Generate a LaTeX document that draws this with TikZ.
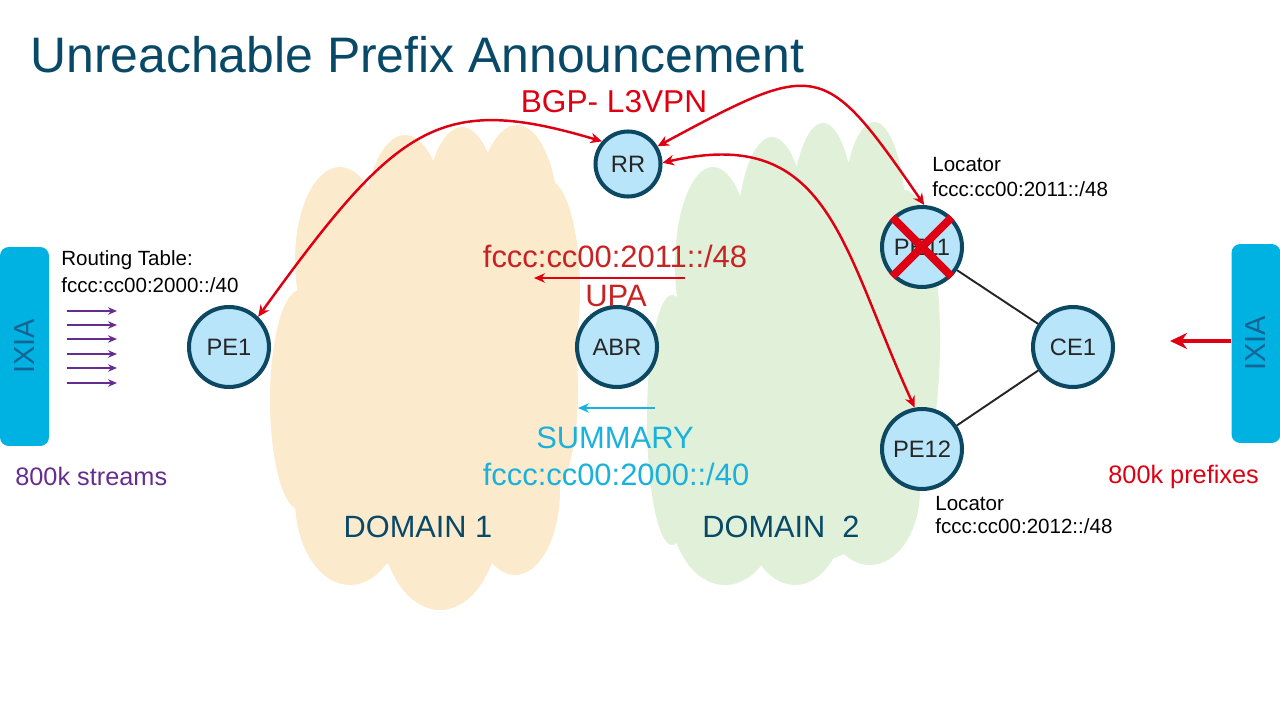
\documentclass[tikz,border=0pt]{standalone}
\usepackage{fontspec}
\setmainfont{Liberation Sans}
\usetikzlibrary{arrows.meta, positioning}
\definecolor{titleteal}{RGB}{8, 73, 104}
\definecolor{nodefill}{RGB}{185, 229, 250}
\definecolor{nodeborder}{RGB}{13, 72, 98}
\definecolor{ixiacyan}{RGB}{0, 178, 226}
\definecolor{ixiatext}{RGB}{22, 100, 150}
\definecolor{bgpred}{RGB}{222, 0, 18}
\definecolor{upared}{RGB}{200, 35, 35}
\definecolor{streampurple}{RGB}{102, 45, 145}
\definecolor{sumcyan}{RGB}{27, 177, 221}
\definecolor{cloudorange}{RGB}{252, 234, 205}
\definecolor{cloudgreen}{RGB}{225, 240, 217}
\tikzset{
    router/.style={
        circle, draw=nodeborder, fill=nodefill, line width=2.3pt,
        minimum size=1.6cm, inner sep=0pt, text=black!85,
        font=\fontsize{13.5}{16}\selectfont
    },
    ixiabox/.style={
        rectangle, rounded corners=5pt, fill=ixiacyan, minimum width=3.98cm,
        minimum height=0.98cm, text=ixiatext, font=\fontsize{16.5}{19}\selectfont
    },
    txt/.style={inner sep=0pt},
    titletext/.style={txt, text=titleteal, font=\fontsize{28.4}{32}\selectfont},
    bgptext/.style={txt, text=bgpred, font=\fontsize{18}{21}\selectfont},
    upatext/.style={txt, text=upared, font=\fontsize{17.6}{20}\selectfont},
    sumtext/.style={txt, text=sumcyan, font=\fontsize{17.6}{20}\selectfont},
    domaintext/.style={txt, text=titleteal, font=\fontsize{17.5}{20}\selectfont},
    smalltext/.style={txt, text=black, font=\fontsize{11.7}{14}\selectfont},
    counttext/.style={txt, font=\fontsize{14.4}{17}\selectfont},
    bgp/.style={<->, >={Stealth[length=2.3mm, width=2.1mm]}, draw=bgpred, line width=1.4pt},
    upaarrow/.style={-{Stealth[length=2.2mm, width=1.9mm]}, draw=bgpred, line width=0.8pt},
    sumarrow/.style={-{Stealth[length=2.2mm, width=1.9mm]}, draw=sumcyan, line width=0.8pt},
    stream/.style={-{Stealth[length=1.8mm, width=1.5mm]}, draw=streampurple, line width=0.8pt},
    inarrow/.style={-{Stealth[length=3.4mm, width=3.2mm]}, draw=bgpred, line width=2.2pt},
    link/.style={draw=black!85, line width=1.1pt},
    cross/.style={draw=bgpred, line width=4.5pt},
}
\begin{document}
\begin{tikzpicture}[x=0.02cm, y=0.02cm]
    \useasboundingbox (0,0) rectangle (1280,-720);

    % domain clouds
    \fill[cloudorange]
        (340,-260) ellipse [x radius=45, y radius=93]
        (405,-235) ellipse [x radius=42, y radius=100]
        (462,-225) ellipse [x radius=38, y radius=98]
        (517,-225) ellipse [x radius=42, y radius=100]
        (548,-290) ellipse [x radius=32, y radius=110]
        (425,-390) ellipse [x radius=145, y radius=180]
        (300,-400) ellipse [x radius=30, y radius=110]
        (350,-500) ellipse [x radius=55, y radius=85]
        (440,-515) ellipse [x radius=60, y radius=95]
        (515,-490) ellipse [x radius=45, y radius=85]
        (555,-390) ellipse [x radius=23, y radius=95];
    \fill[cloudgreen]
        (713,-265) ellipse [x radius=38, y radius=98]
        (772,-240) ellipse [x radius=35, y radius=103]
        (823,-225) ellipse [x radius=32, y radius=102]
        (874,-225) ellipse [x radius=32, y radius=103]
        (905,-340) ellipse [x radius=35, y radius=150]
        (795,-390) ellipse [x radius=140, y radius=175]
        (672,-420) ellipse [x radius=25, y radius=125]
        (725,-505) ellipse [x radius=55, y radius=80]
        (795,-510) ellipse [x radius=50, y radius=75]
        (870,-490) ellipse [x radius=50, y radius=75];

    \node[titletext, anchor=base west] (title) at (30,-72) {Unreachable Prefix Announcement};

    % routers
    \node[router, minimum size=1.3cm] (rr) at (628,-164) {RR};
    \node[router] (pe1) at (229,-347) {PE1};
    \node[router] (abr) at (617,-347) {ABR};
    \node[router] (pe11) at (922,-247) {PE11};
    \node[router] (pe12) at (922,-449) {PE12};
    \node[router] (ce1) at (1073,-347) {CE1};

    \draw[link] (pe11) -- (ce1);
    \draw[link] (pe12) -- (ce1);
    \draw[cross] (pe11.135) -- (pe11.-45) (pe11.45) -- (pe11.-135);

    % traffic generators
    \node[ixiabox, rotate=90] (ixiaL) at (24.5,-346.5) {IXIA};
    \node[ixiabox, rotate=90] (ixiaR) at (1256,-343.5) {IXIA};

    \foreach \y [count=\i] in {311,325,339,354,368,383} {
        \coordinate (s\i) at (67,-\y);
        \coordinate (t\i) at (117,-\y);
        \draw[stream] (s\i) -- (t\i);
    }
    \coordinate (inR) at (1170,-341);
    \draw[inarrow] (ixiaR.north |- inR) -- (inR);

    % BGP sessions
    \node[bgptext, anchor=base] (bgp) at (614,-112) {BGP- L3VPN};
    \draw[bgp] (pe1.46) .. controls (398,-123) and (440,-93) .. (rr.139);
    \draw[bgp] (rr.31) .. controls (818,-60) and (823,-58) .. (pe11.87);
    \draw[bgp] (rr.2) .. controls (830,-124) and (841,-247) .. (pe12.100);

    % UPA and summary
    \node[upatext, anchor=base] (upapfx) at (615,-267) {fccc:cc00:2011::/48};
    \coordinate (upaS) at (685,-278);
    \coordinate (upaE) at (534,-278);
    \draw[upaarrow] (upaS) -- (upaE);
    \node[upatext, anchor=base] (upa) at (616,-306) {UPA};

    \coordinate (sumS) at (655,-408);
    \coordinate (sumE) at (578,-408);
    \draw[sumarrow] (sumS) -- (sumE);
    \node[sumtext, anchor=base] (sum) at (615,-448) {SUMMARY};
    \node[sumtext, anchor=base] (sumpfx) at (616,-485) {fccc:cc00:2000::/40};

    \node[domaintext, anchor=base] (dom1) at (418,-537) {DOMAIN 1};
    \node[domaintext, anchor=base] (dom2) at (781,-537) {DOMAIN\ \ 2};

    % side labels
    \node[smalltext, anchor=base west] (rtab) at (61,-265) {Routing Table:};
    \node[smalltext, anchor=base west] (rtabpfx) at (61,-292) {fccc:cc00:2000::/40};
    \node[smalltext, anchor=base west] (loc11) at (932,-171) {Locator};
    \node[smalltext, anchor=base west] (loc11pfx) at (932,-196) {fccc:cc00:2011::/48};
    \node[smalltext, anchor=base west] (loc12) at (935,-510) {Locator};
    \node[smalltext, anchor=base west] (loc12pfx) at (935,-533) {fccc:cc00:2012::/48};
    \node[counttext, text=streampurple, anchor=base west] (streams) at (15,-485) {800k streams};
    \node[counttext, text=bgpred, anchor=base west] (prefixes) at (1108,-483) {800k prefixes};
\end{tikzpicture}
\end{document}
